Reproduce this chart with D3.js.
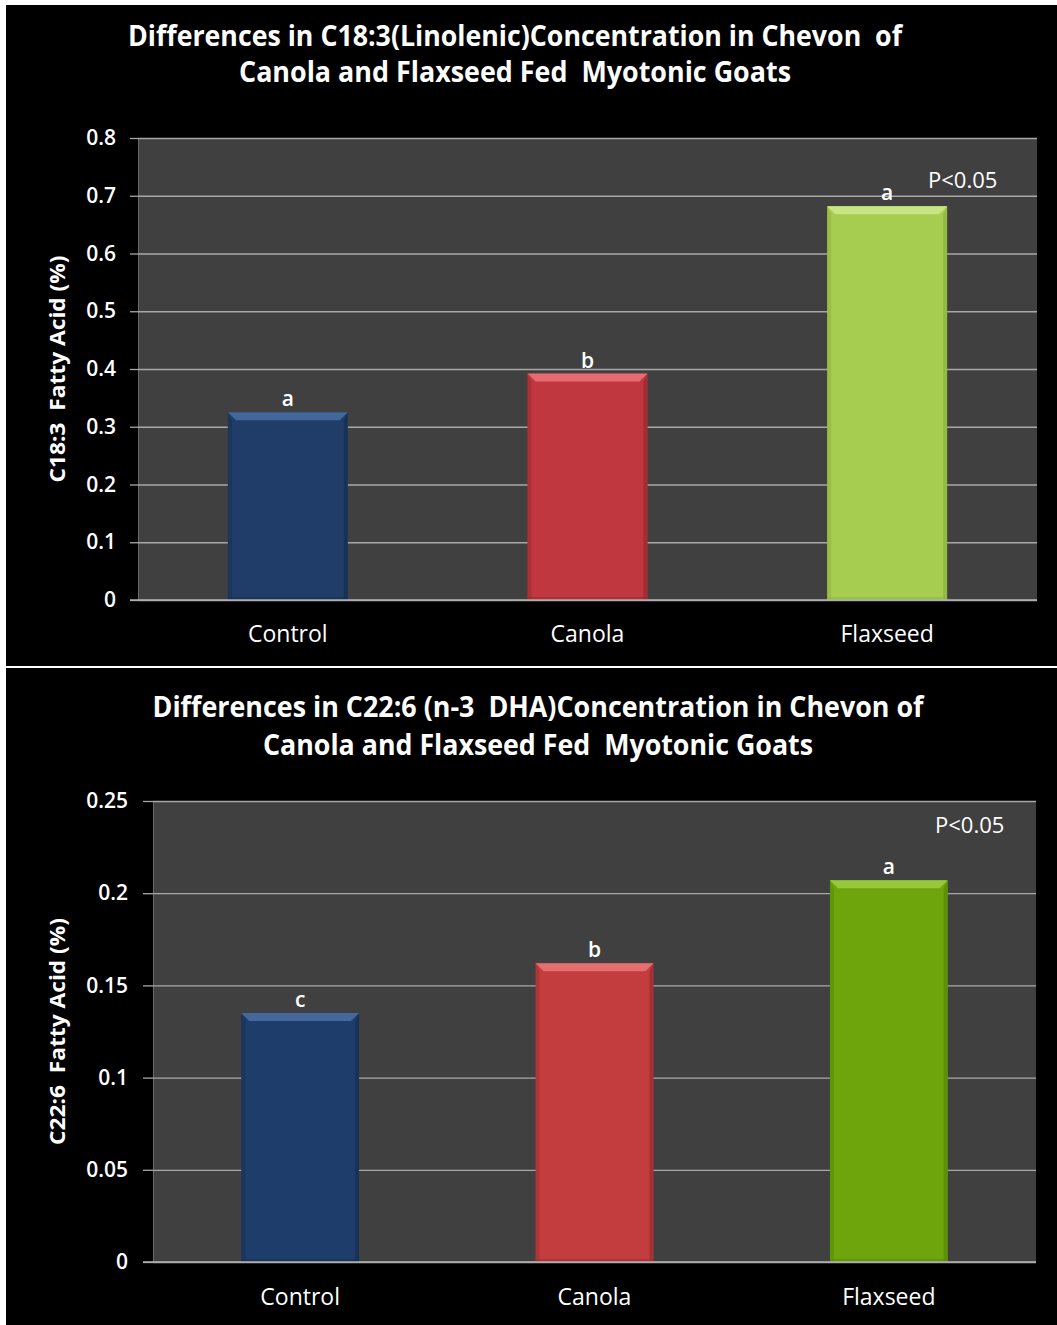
<!DOCTYPE html>
<html>
<head>
<meta charset="utf-8">
<script src="https://cdn.jsdelivr.net/npm/d3@7"></script>
<style>
  html, body { margin: 0; padding: 0; background: #ffffff; }
  svg { display: block; }
  text { font-family: "Open Sans", "Noto Sans", sans-serif; fill: #ffffff; white-space: pre; }
</style>
</head>
<body>
<svg id="chart" width="1057" height="1325"></svg>
<script>
// ---- data ----
const categories = ["Control", "Canola", "Flaxseed"];

const linolenicValues = [0.325, 0.392, 0.682];      // C18:3 (%)
const linolenicLetters = ["a", "b", "a"];
const linolenicTicks = [0, 0.1, 0.2, 0.3, 0.4, 0.5, 0.6, 0.7, 0.8];
const linolenicTitle = ["Differences in C18:3(Linolenic)Concentration in Chevon  of",
                        "Canola and Flaxseed Fed  Myotonic Goats"];
const linolenicAxisTitle = "C18:3  Fatty Acid (%)";

const dhaValues = [0.135, 0.162, 0.207];            // C22:6 (%)
const dhaLetters = ["c", "b", "a"];
const dhaTicks = [0, 0.05, 0.1, 0.15, 0.2, 0.25];
const dhaTitle = ["Differences in C22:6 (n-3  DHA)Concentration in Chevon of",
                  "Canola and Flaxseed Fed  Myotonic Goats"];
const dhaAxisTitle = "C22:6  Fatty Acid (%)";

const significanceNote = "P<0.05";

// ---- panel layouts ----
const panels = [
  {
    values: linolenicValues, letters: linolenicLetters, ticks: linolenicTicks,
    title: linolenicTitle, axisTitle: linolenicAxisTitle,
    box: { x: 6, y: 5, w: 1051, h: 661 },
    titleX: 515, titleY: [46, 82], titleW: [774, 552],
    plot: { x0: 138, x1: 1037, y0: 138, y1: 600 },
    tickRight: 116, tickLen: 8,
    axisTitleX: 58, axisTitleW: 227,
    xLabelY: 642,
    note: { x: 928, y: 188 },
    colors: [
      { base: "#1f3d68", light: "#426799", dark: "#172f52" },
      { base: "#c1373f", light: "#e56b70", dark: "#9c2a31" },
      { base: "#a6cd50", light: "#c8e585", dark: "#8fb540" }
    ]
  },
  {
    values: dhaValues, letters: dhaLetters, ticks: dhaTicks,
    title: dhaTitle, axisTitle: dhaAxisTitle,
    box: { x: 6, y: 668, w: 1051, h: 657 },
    titleX: 538, titleY: [717, 755], titleW: [771, 550],
    plot: { x0: 153, x1: 1036, y0: 801, y1: 1262 },
    tickRight: 128, tickLen: 10,
    axisTitleX: 58, axisTitleW: 227,
    xLabelY: 1305,
    note: { x: 935, y: 833 },
    colors: [
      { base: "#1f3d6b", light: "#44689c", dark: "#172f54" },
      { base: "#c33d3f", light: "#e56e6e", dark: "#9e2f31" },
      { base: "#6ea50c", light: "#97c83c", dark: "#5a8a08" }
    ]
  }
];

const svg = d3.select("#chart");

function fitWidth(sel, w) {
  sel.attr("textLength", w).attr("lengthAdjust", "spacingAndGlyphs");
}

const tickFormat = d => d === 0 ? "0" : String(+d.toFixed(2));

panels.forEach(p => {
  const g = svg.append("g");

  // black panel background
  g.append("rect")
    .attr("x", p.box.x).attr("y", p.box.y)
    .attr("width", p.box.w).attr("height", p.box.h)
    .attr("fill", "#000000");

  // title
  p.title.forEach((line, i) => {
    g.append("text")
      .attr("x", p.titleX).attr("y", p.titleY[i])
      .attr("text-anchor", "middle")
      .attr("font-size", 29).attr("font-weight", 700)
      .text(line)
      .call(fitWidth, p.titleW[i]);
  });

  const x = d3.scaleBand()
    .domain(categories)
    .range([p.plot.x0, p.plot.x1])
    .paddingInner(0.6)
    .paddingOuter(0.3);

  const y = d3.scaleLinear()
    .domain([0, p.ticks[p.ticks.length - 1]])
    .range([p.plot.y1, p.plot.y0]);

  // plot area
  g.append("rect")
    .attr("x", p.plot.x0).attr("y", p.plot.y0)
    .attr("width", p.plot.x1 - p.plot.x0).attr("height", p.plot.y1 - p.plot.y0)
    .attr("fill", "#404040");
  g.append("line")
    .attr("x1", p.plot.x0 + 0.5).attr("x2", p.plot.x0 + 0.5)
    .attr("y1", p.plot.y0).attr("y2", p.plot.y1)
    .attr("stroke", "#6a6a6a").attr("stroke-width", 1);

  // gridlines + tick labels (axis placed on the plot's left edge)
  const plotW = p.plot.x1 - p.plot.x0;
  const yAxis = d3.axisLeft(y)
    .tickValues(p.ticks)
    .tickFormat(tickFormat)
    .tickSizeInner(-plotW)
    .tickSizeOuter(0)
    .tickPadding(p.plot.x0 - p.tickRight);
  const ag = g.append("g")
    .attr("transform", `translate(${p.plot.x0},0)`)
    .call(yAxis);
  ag.select(".domain").remove();
  ag.selectAll(".tick line")
    .attr("stroke", "#a8a8a8").attr("stroke-width", 1.3);
  ag.selectAll(".tick")
    .append("line")
    .attr("x1", -p.tickLen).attr("x2", 0)
    .attr("stroke", "#a8a8a8").attr("stroke-width", 1.3);
  ag.selectAll(".tick text")
    .attr("fill", "#ffffff")
    .attr("font-size", 21).attr("font-weight", 600)
    .attr("font-family", "'Open Sans', sans-serif");

  // axis title
  const midY = (p.plot.y0 + p.plot.y1) / 2;
  g.append("text")
    .attr("transform", `translate(${p.axisTitleX},${midY}) rotate(-90)`)
    .attr("text-anchor", "middle")
    .attr("dy", "0.35em")
    .attr("font-size", 21).attr("font-weight", 700)
    .text(p.axisTitle)
    .call(fitWidth, p.axisTitleW);

  // bars with bevelled edges
  const bev = 8;
  categories.forEach((c, i) => {
    const v = p.values[i];
    const x0 = x(c), x1 = x(c) + x.bandwidth();
    const yt = y(v), yb = y(0);
    const col = p.colors[i];
    const bg = g.append("g");
    bg.append("rect")
      .attr("x", x0).attr("y", yt).attr("width", x1 - x0).attr("height", yb - yt)
      .attr("fill", col.base);
    // left edge
    bg.append("path")
      .attr("d", `M${x0},${yt}L${x0 + bev / 2},${yt + bev}L${x0 + bev / 2},${yb}L${x0},${yb}Z`)
      .attr("fill", col.dark).attr("opacity", 0.55);
    // right edge
    bg.append("path")
      .attr("d", `M${x1},${yt}L${x1 - bev / 2},${yt + bev}L${x1 - bev / 2},${yb}L${x1},${yb}Z`)
      .attr("fill", col.dark).attr("opacity", 0.8);
    // top bevel
    bg.append("path")
      .attr("d", `M${x0},${yt}L${x1},${yt}L${x1 - bev},${yt + bev}L${x0 + bev},${yt + bev}Z`)
      .attr("fill", col.light);
    // bottom shade
    bg.append("rect")
      .attr("x", x0).attr("y", yb - 3).attr("width", x1 - x0).attr("height", 3)
      .attr("fill", col.dark).attr("opacity", 0.6);

    // significance letter
    g.append("text")
      .attr("x", x0 + x.bandwidth() / 2).attr("y", yt - 6)
      .attr("text-anchor", "middle")
      .attr("font-size", 21).attr("font-weight", 600)
      .text(p.letters[i]);

    // category label
    g.append("text")
      .attr("x", x0 + x.bandwidth() / 2).attr("y", p.xLabelY)
      .attr("text-anchor", "middle")
      .attr("font-size", 23).attr("font-weight", 400)
      .text(c);
  });

  // baseline
  g.append("line")
    .attr("x1", p.plot.x0 - p.tickLen).attr("x2", p.plot.x1)
    .attr("y1", y(0)).attr("y2", y(0))
    .attr("stroke", "#b0b0b0").attr("stroke-width", 1.5);

  // significance note
  g.append("text")
    .attr("x", p.note.x).attr("y", p.note.y)
    .attr("font-size", 22).attr("font-weight", 400)
    .text(significanceNote);
});
</script>
</body>
</html>
